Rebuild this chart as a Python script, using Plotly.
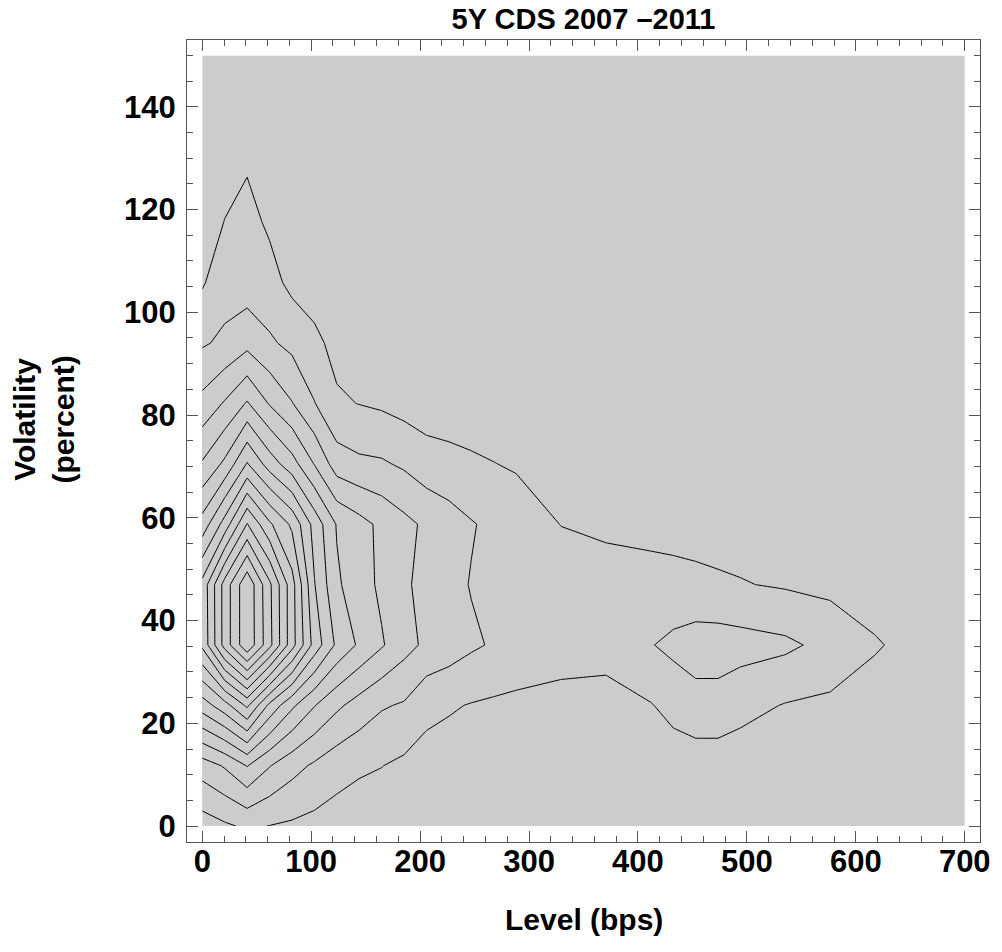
import plotly.graph_objects as go

# Grid of the density estimate (Level in bps, Volatility in percent)
level_bps = [0, 20.6, 41.2, 61.8, 82.4, 103, 123.5, 144, 164.7, 185.3, 205.9, 226.5,
             247, 267.6, 288.2, 329.4, 370.6, 411.8, 432.4, 453, 473.5, 494, 535.3,
             576.5, 617.6, 658.8, 700]
vol_pct = [0, 11.75, 23.5, 35.25, 47, 58.75, 70.5, 82.25, 94, 105.75, 117.5, 129.25, 141, 150]

# density (in contour-level units) along each volatility row
dens_v000 = [0.5, 0.85, 1.15, 0.98, 0.85, 0.7, 0.55, 0.45, 0.4, 0.35, 0.3, 0.28, 0.25, 0.23, 0.22, 0.2, 0.18, 0.2, 0.22, 0.24, 0.24, 0.23, 0.2, 0.18, 0.15, 0.12, 0.1]
dens_v012 = [2.5, 3.1, 4.05, 3.05, 2.35, 1.85, 1.4, 1.15, 1.02, 0.8, 0.65, 0.55, 0.5, 0.45, 0.42, 0.38, 0.3, 0.35, 0.5, 0.5, 0.5, 0.5, 0.45, 0.4, 0.35, 0.3, 0.25]
dens_v024 = [6.5, 7.6, 9.2, 6.75, 5.2, 4.05, 3.2, 2.6, 2.1, 1.9, 1.25, 1.1, 0.95, 0.85, 0.75, 0.55, 0.3, 0.95, 1.3, 1.6, 1.6, 1.3, 0.95, 0.8, 0.6, 0.45, 0.35]
dens_v035 = [10.2, 13.4, 15.8, 13.3, 10.4, 7.6, 5.8, 4.85, 4.1, 3.35, 2.8, 2.5, 2.15, 1.9, 1.75, 1.6, 1.7, 1.95, 2.25, 2.5, 2.5, 2.4, 2.2, 1.7, 1.08, 0.7, 0.5]
dens_v047 = [10.3, 13.4, 15.8, 13.2, 10.4, 7.05, 5.15, 4.45, 3.8, 3.15, 2.7, 2.3, 1.95, 1.8, 1.7, 1.55, 1.45, 1.35, 1.28, 1.2, 1.12, 1.05, 0.9, 0.75, 0.6, 0.5, 0.4]
dens_v059 = [7.4, 9.4, 12.05, 10.17, 8.8, 6.63, 4.93, 4.35, 3.78, 3.27, 2.82, 2.45, 2.07, 1.78, 1.52, 0.98, 0.8, 0.72, 0.7, 0.68, 0.65, 0.62, 0.55, 0.5, 0.45, 0.4, 0.35]
dens_v071 = [5.1, 6.2, 8.07, 6.53, 5.4, 3.95, 2.5, 2.2, 2.12, 1.85, 1.45, 1.3, 1.15, 1.02, 0.9, 0.7, 0.6, 0.55, 0.52, 0.5, 0.48, 0.46, 0.42, 0.38, 0.35, 0.3, 0.28]
dens_v082 = [3.3, 4.1, 5.1, 3.92, 3.05, 2.04, 1.12, 0.98, 0.85, 0.65, 0.5, 0.48, 0.46, 0.45, 0.42, 0.38, 0.35, 0.33, 0.32, 0.31, 0.3, 0.29, 0.27, 0.25, 0.23, 0.2, 0.18]
dens_v094 = [1.89, 2.19, 2.7, 2.15, 1.74, 1.2, 0.75, 0.65, 0.6, 0.55, 0.5, 0.45, 0.42, 0.4, 0.38, 0.35, 0.32, 0.3, 0.29, 0.28, 0.27, 0.26, 0.24, 0.22, 0.2, 0.18, 0.16]
dens_v106 = [0.9, 1.6, 1.5, 1.35, 0.75, 0.6, 0.5, 0.45, 0.42, 0.4, 0.38, 0.36, 0.34, 0.32, 0.3, 0.28, 0.26, 0.25, 0.24, 0.23, 0.22, 0.21, 0.2, 0.18, 0.16, 0.14, 0.12]
dens_v118 = [0.6, 1.02, 1.3, 0.85, 0.6, 0.5, 0.42, 0.38, 0.35, 0.33, 0.31, 0.3, 0.28, 0.27, 0.26, 0.24, 0.22, 0.21, 0.2, 0.19, 0.18, 0.17, 0.16, 0.15, 0.13, 0.12, 0.1]
dens_v129 = [0.42, 0.7, 0.9, 0.6, 0.45, 0.4, 0.35, 0.32, 0.3, 0.28, 0.26, 0.25, 0.24, 0.23, 0.22, 0.2, 0.19, 0.18, 0.17, 0.16, 0.15, 0.14, 0.13, 0.12, 0.11, 0.1, 0.08]
dens_v141 = [0.3, 0.5, 0.6, 0.45, 0.35, 0.3, 0.27, 0.25, 0.23, 0.22, 0.21, 0.2, 0.19, 0.18, 0.17, 0.16, 0.15, 0.14, 0.13, 0.12, 0.12, 0.11, 0.1, 0.09, 0.08, 0.07, 0.06]
dens_v150 = [0.25, 0.4, 0.5, 0.38, 0.3, 0.26, 0.23, 0.21, 0.2, 0.19, 0.18, 0.17, 0.16, 0.15, 0.14, 0.13, 0.12, 0.11, 0.1, 0.1, 0.1, 0.09, 0.08, 0.07, 0.06, 0.05, 0.05]

density = [dens_v000, dens_v012, dens_v024, dens_v035, dens_v047, dens_v059, dens_v071,
           dens_v082, dens_v094, dens_v106, dens_v118, dens_v129, dens_v141, dens_v150]

x_ticks = [0, 100, 200, 300, 400, 500, 600, 700]
y_ticks = [0, 20, 40, 60, 80, 100, 120, 140]

FONT = "Liberation Sans, Arial, Helvetica, sans-serif"
FRAME = "#555555"

fig = go.Figure(go.Contour(
    x=level_bps, y=vol_pct, z=density,
    autocontour=False,
    contours=dict(start=1, end=15, size=1, coloring="fill", showlines=True),
    colorscale=[[0, "#cccccc"], [1, "#cccccc"]],
    showscale=False,
    line=dict(color="black", width=1, smoothing=0),
    hoverinfo="skip",
))

axis_common = dict(
    showgrid=False, zeroline=False, showline=True, linecolor=FRAME, linewidth=1,
    mirror="ticks", ticks="inside", ticklen=11, tickwidth=1, tickcolor=FRAME,
    tickfont=dict(family=FONT, size=31, color="black", weight="bold"),
)

fig.update_xaxes(range=[-14, 714], tickvals=x_ticks, ticklabelstandoff=-8,
                 minor=dict(ticks="inside", dtick=20, tick0=0, ticklen=6, tickcolor=FRAME),
                 **axis_common)
fig.update_yaxes(range=[-3.1, 153], tickvals=y_ticks, ticklabelstandoff=4,
                 minor=dict(ticks="inside", dtick=5, tick0=0, ticklen=6, tickcolor=FRAME),
                 **axis_common)

fig.update_layout(
    width=1002, height=952,
    margin=dict(l=187, r=15, t=40, b=110),
    paper_bgcolor="white", plot_bgcolor="white",
    title=dict(text="5Y CDS 2007 \u20132011", x=0.5, xref="paper", y=1 - 19 / 952, yref="container",
               yanchor="middle",
               font=dict(family=FONT, size=29, color="black", weight="bold")),
    showlegend=False,
    annotations=[
        dict(text="Level (bps)", xref="paper", yref="paper", x=0.5, y=-0.097,
             xanchor="center", yanchor="middle", showarrow=False,
             font=dict(family=FONT, size=30, color="black", weight="bold")),
        dict(text="Volatility<br>(percent)", xref="paper", yref="paper", x=-0.18, y=0.527,
             xanchor="center", yanchor="middle", showarrow=False, textangle=-90,
             font=dict(family=FONT, size=30, color="black", weight="bold")),
    ],
)

fig.write_html("out.html",
               config={"displayModeBar": False},
               post_script="document.body.style.margin='0';document.body.style.overflow='hidden';")
